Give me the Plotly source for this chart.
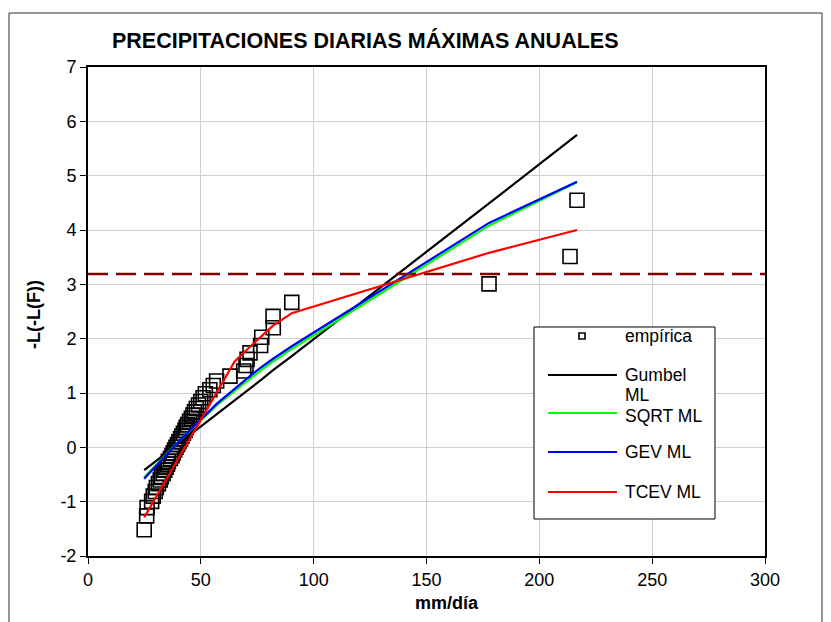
import plotly.graph_objects as go

# ---------------- data ----------------
emp_x = [24.9, 26.0, 26.2, 28.2, 28.9, 29.8, 30.3, 31.2, 32.0, 32.5,
         33.3, 34.0, 34.6, 35.2, 35.6, 36.5, 37.2, 37.8, 38.4, 39.0,
         39.7, 40.3, 41.0, 41.6, 42.3, 43.0, 43.5, 44.2, 45.0, 45.8,
         46.5, 47.2, 48.0, 49.0, 50.0, 51.0, 52.0, 54.0, 55.5, 57.0,
         62.9, 69.0, 70.0, 70.5, 71.8, 76.5, 77.0, 82.1, 82.0, 90.3,
         177.7, 213.6, 216.7]
emp_y = [-1.516, -1.261, -1.109, -0.994, -0.898, -0.814, -0.738, -0.668, -0.602, -0.539,
         -0.480, -0.422, -0.366, -0.311, -0.258, -0.205, -0.153, -0.102, -0.050, 0.001,
         0.052, 0.104, 0.155, 0.207, 0.260, 0.313, 0.367, 0.421, 0.477, 0.534,
         0.593, 0.653, 0.714, 0.778, 0.844, 0.913, 0.985, 1.060, 1.138, 1.222,
         1.310, 1.405, 1.507, 1.618, 1.739, 1.874, 2.027, 2.202, 2.411, 2.668,
         3.008, 3.513, 4.547]

model_x = [24.9, 40.0, 57.0, 65.0, 72.0, 77.0, 82.0, 90.3, 177.7, 216.7]
gumbel_y = [-0.42, 0.06, 0.61, 0.87, 1.09, 1.25, 1.42, 1.68, 4.49, 5.75]
sqrt_y = [-0.55, 0.10, 0.77, 1.04, 1.27, 1.43, 1.58, 1.81, 4.08, 4.88]
gev_y = [-0.58, 0.10, 0.80, 1.08, 1.32, 1.48, 1.63, 1.86, 4.13, 4.89]
tcev_y = [-1.29, -0.20, 1.02, 1.58, 1.86, 2.05, 2.24, 2.47, 3.58, 4.00]

threshold_y = 3.19
x_ticks = [0, 50, 100, 150, 200, 250, 300]
x_tick_labels = ["0", "50", "100", "150", "200", "250", "300"]
y_ticks = [-2, -1, 0, 1, 2, 3, 4, 5, 6, 7]
y_tick_labels = ["-2", "-1", "0", "1", "2", "3", "4", "5", "6", "7"]

series_names = ["empírica", "Gumbel ML", "SQRT ML", "GEV ML", "TCEV ML"]
line_colors = ["#000000", "#00FF00", "#0000FF", "#FF0000"]

FONT = "Arial, Liberation Sans, sans-serif"

# ---------------- geometry (pixels, as seen in the page) ----------------
W, H = 831, 622
OFF = 8  # page body offset
L, R, T, B = 88, 765, 67, 556
pw, ph = R - L, B - T


def px(x):
    return (x - L) / pw


def py(y):
    return (B - y) / ph


fig = go.Figure()

fig.add_trace(go.Scatter(
    x=emp_x, y=emp_y, mode="markers", name=series_names[0],
    marker=dict(symbol="square-open", size=14, color="#000000",
                line=dict(width=1.6, color="#000000")),
    showlegend=False))

for name, ys, col in zip(series_names[1:], [gumbel_y, sqrt_y, gev_y, tcev_y], line_colors):
    fig.add_trace(go.Scatter(
        x=model_x, y=ys, mode="lines", name=name,
        line=dict(color=col, width=2.2), showlegend=False))

fig.add_trace(go.Scatter(
    x=[x_ticks[0], x_ticks[-1]], y=[threshold_y, threshold_y], mode="lines",
    line=dict(color="#800000", width=2.6, dash="20px,8px"),
    showlegend=False, hoverinfo="skip"))

shapes = []
annotations = []

# outer chart border
shapes.append(dict(type="rect", xref="paper", yref="paper",
                   x0=px(9), x1=px(822), y0=py(660), y1=py(13),
                   line=dict(color="#303030", width=1), fillcolor="rgba(0,0,0,0)", layer="below"))

# manual legend (box, samples, labels)
shapes.append(dict(type="rect", xref="paper", yref="paper",
                   x0=px(534), x1=px(715), y0=py(519), y1=py(327),
                   line=dict(color="#000000", width=1), fillcolor="#FFFFFF", layer="above"))
shapes.append(dict(type="rect", xref="paper", yref="paper",
                   x0=px(579), x1=px(585), y0=py(339), y1=py(333),
                   line=dict(color="#000000", width=1.6), fillcolor="rgba(0,0,0,0)", layer="above"))


def legend_text(text, ycenter):
    annotations.append(dict(text=text, xref="paper", yref="paper",
                            x=px(623), y=py(ycenter), xanchor="left", yanchor="middle",
                            showarrow=False, font=dict(family=FONT, size=17.5, color="#000000")))


legend_text(series_names[0], 336)
leg_y = [375, 413, 452, 492]
for name, col, yy in zip(series_names[1:], line_colors, leg_y):
    shapes.append(dict(type="line", xref="paper", yref="paper",
                       x0=px(548), x1=px(617), y0=py(yy), y1=py(yy),
                       line=dict(color=col, width=2.2), layer="above"))
    if name == "Gumbel ML":
        legend_text("Gumbel", yy)
        legend_text("ML", yy + 20)
    elif name == "SQRT ML":
        legend_text(name, yy + 3)
    else:
        legend_text(name, yy)

# title
annotations.append(dict(text="<b>PRECIPITACIONES DIARIAS MÁXIMAS ANUALES</b>",
                        xref="paper", yref="paper", x=px(365), y=py(40),
                        xanchor="center", yanchor="middle", showarrow=False,
                        font=dict(family=FONT, size=21.5, color="#000000")))
# axis titles
annotations.append(dict(text="<b>mm/día</b>", xref="paper", yref="paper",
                        x=px(447), y=py(603), xanchor="center", yanchor="middle",
                        showarrow=False, font=dict(family=FONT, size=18, color="#000000")))
annotations.append(dict(text="<b>-L(-L(F))</b>", xref="paper", yref="paper",
                        x=px(34), y=py(315), xanchor="center", yanchor="middle",
                        textangle=-90, showarrow=False,
                        font=dict(family=FONT, size=18, color="#000000")))

axis_common = dict(showgrid=True, gridcolor="#D0D0D0", gridwidth=1,
                   showline=True, linecolor="#000000", linewidth=2, mirror=True,
                   ticks="outside", ticklen=6, tickcolor="#000000", tickwidth=1,
                   zeroline=False, tickfont=dict(family=FONT, size=18, color="#000000"))

fig.update_layout(
    width=W, height=H,
    margin=dict(l=L - OFF, r=W - R + OFF, t=T - OFF, b=H - B + OFF),
    paper_bgcolor="#FFFFFF", plot_bgcolor="#FFFFFF",
    xaxis=dict(range=[x_ticks[0], x_ticks[-1]], tickmode="array", tickvals=x_ticks,
               ticktext=x_tick_labels, **axis_common),
    yaxis=dict(range=[y_ticks[0], y_ticks[-1]], tickmode="array", tickvals=y_ticks,
               ticktext=y_tick_labels, **axis_common),
    shapes=shapes, annotations=annotations, showlegend=False,
)

fig.write_html("out.html")
